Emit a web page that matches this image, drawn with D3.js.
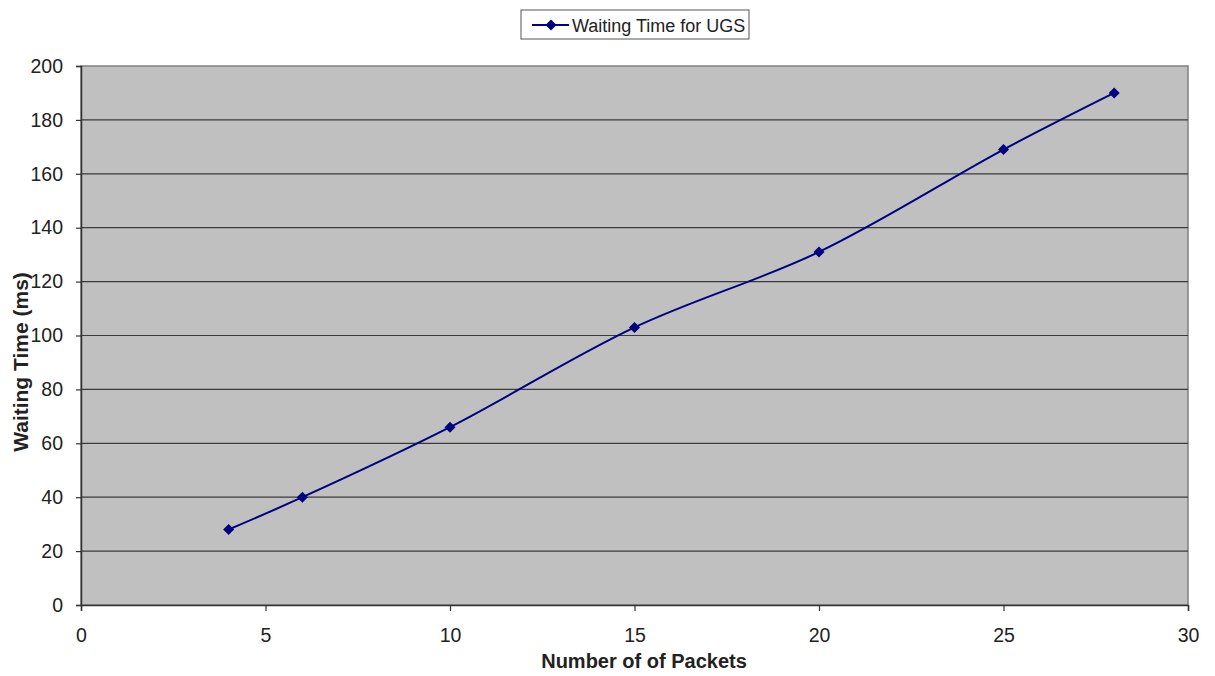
<!DOCTYPE html>
<html>
<head>
<meta charset="utf-8">
<script src="https://cdn.jsdelivr.net/npm/d3@7"></script>
<style>
  body { margin: 0; background: #fff; }
  svg { font-family: "Liberation Sans", Arial, sans-serif; }
</style>
</head>
<body>
<div id="chart"></div>
<script>
// data
var packets = [4, 6, 10, 15, 20, 25, 28];
var waiting = [28, 40, 66, 103, 131, 169, 190];
var xTicks = [0, 5, 10, 15, 20, 25, 30];
var yTicks = [0, 20, 40, 60, 80, 100, 120, 140, 160, 180, 200];
var seriesName = "Waiting Time for UGS";

var margin = {top: 66, right: 27, bottom: 71, left: 81},
    width = 1215 - margin.left - margin.right,
    height = 676 - margin.top - margin.bottom;

var svgRoot = d3.select("#chart")
  .append("svg")
    .attr("width", 1215)
    .attr("height", 676);

var svg = svgRoot.append("g")
    .attr("transform", "translate(" + margin.left + "," + margin.top + ")");

var x = d3.scaleLinear().domain([0, 30]).range([0, width]);
var y = d3.scaleLinear().domain([0, 200]).range([height, 0]);

// plot background
svg.append("rect")
  .attr("width", width)
  .attr("height", height)
  .style("fill", "#c0c0c0")
  .style("stroke", "#808080")
  .style("stroke-width", 1.5);

// gridlines
svg.append("g")
  .selectAll("line")
  .data(yTicks.filter(function(d) { return d > 0 && d < 200; }))
  .enter()
  .append("line")
    .attr("x1", 0)
    .attr("x2", width)
    .attr("y1", function(d) { return y(d); })
    .attr("y2", function(d) { return y(d); })
    .style("stroke", "#3a3a3a")
    .style("stroke-width", 1.2);

// axes
var xAxis = svg.append("g")
  .attr("transform", "translate(0," + height + ")")
  .call(d3.axisBottom(x).tickValues(xTicks).tickSize(6).tickPadding(17));
var yAxis = svg.append("g")
  .call(d3.axisLeft(y).tickValues(yTicks).tickSize(5).tickPadding(13));

[xAxis, yAxis].forEach(function(a) {
  a.select(".domain").style("stroke", "#333").style("stroke-width", 1.5);
  a.selectAll(".tick line").style("stroke", "#333").style("stroke-width", 1.2);
  a.selectAll(".tick text")
    .style("font-size", "19.5px")
    .style("fill", "#222")
    .attr("font-family", "Liberation Sans, Arial, sans-serif");
});

// line
var line = d3.line()
  .x(function(d) { return x(d[0]); })
  .y(function(d) { return y(d[1]); })
  .curve(d3.curveCatmullRom.alpha(0.5));

var pts = packets.map(function(p, i) { return [p, waiting[i]]; });

svg.append("path")
  .datum(pts)
  .attr("d", line)
  .style("fill", "none")
  .style("stroke", "#000080")
  .style("stroke-width", 2);

// square diamond marker
var diamond = "M0,-5.5L5.5,0L0,5.5L-5.5,0Z";

svg.append("g")
  .selectAll("path")
  .data(pts)
  .enter()
  .append("path")
    .attr("d", diamond)
    .attr("transform", function(d) { return "translate(" + x(d[0]) + "," + y(d[1]) + ")"; })
    .style("fill", "#000080");

// axis titles
svgRoot.append("text")
  .attr("x", 644)
  .attr("y", 668)
  .attr("text-anchor", "middle")
  .style("font-size", "20px")
  .style("font-weight", "bold")
  .style("fill", "#222")
  .text("Number of of Packets");

svgRoot.append("text")
  .attr("transform", "translate(28,362) rotate(-90)")
  .attr("text-anchor", "middle")
  .style("font-size", "21px")
  .style("font-weight", "bold")
  .style("fill", "#222")
  .text("Waiting Time (ms)");

// legend
var legend = svgRoot.append("g").attr("transform", "translate(521,10)");
legend.append("rect")
  .attr("width", 228)
  .attr("height", 29)
  .style("fill", "#fff")
  .style("stroke", "#555")
  .style("stroke-width", 1);
legend.append("line")
  .attr("x1", 11).attr("x2", 48)
  .attr("y1", 15).attr("y2", 15)
  .style("stroke", "#000080")
  .style("stroke-width", 2);
legend.append("path")
  .attr("d", diamond)
  .attr("transform", "translate(30,15)")
  .style("fill", "#000080");
legend.append("text")
  .attr("x", 51)
  .attr("y", 21.5)
  .style("font-size", "18px")
  .style("fill", "#222")
  .text(seriesName);
</script>
</body>
</html>
